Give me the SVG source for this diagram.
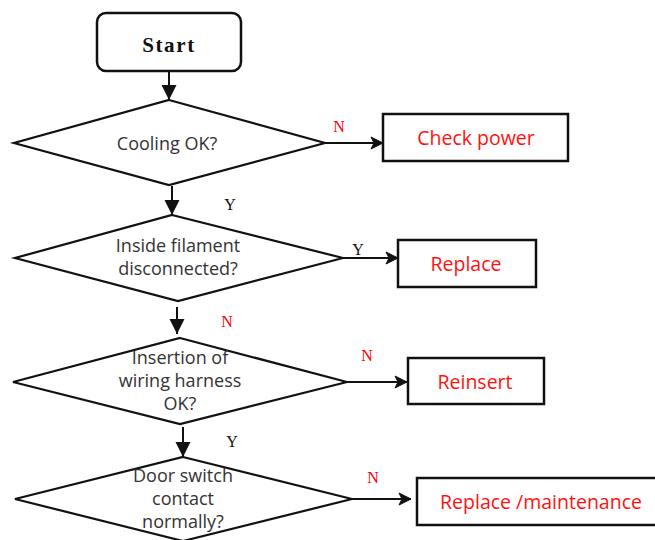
<svg xmlns="http://www.w3.org/2000/svg" width="655" height="540" viewBox="0 0 655 540">
<defs>
<style>
.shape{fill:#fff;stroke:#111;stroke-width:2.2}
.box{fill:#fff;stroke:#111;stroke-width:2.5}
.q{font-family:"Open Sans","Noto Sans",sans-serif;font-size:18px;fill:#333;text-anchor:middle}
.act{font-family:"Open Sans","Noto Sans",sans-serif;font-size:19.5px;fill:#f11;text-anchor:middle}
.lbl{font-family:"Liberation Serif","DejaVu Serif",serif;font-size:16px;text-anchor:middle}
.st{font-family:"Liberation Serif","DejaVu Serif",serif;font-size:21px;font-weight:600;letter-spacing:1.6px;fill:#111;text-anchor:middle}
.red{fill:#f00}
.blk{fill:#111}
.line{fill:none;stroke:#111;stroke-width:2}
</style>
<marker id="tri" markerUnits="userSpaceOnUse" markerWidth="16" markerHeight="16" refX="15" refY="8" orient="auto">
<path d="M0,0.5 L15,8 L0,15.5 z" fill="#111"/>
</marker>
<marker id="chev" markerUnits="userSpaceOnUse" markerWidth="16" markerHeight="14" refX="14" refY="7" orient="auto">
<path d="M2,1 L14,7 L2,13 L5,7 z" fill="#111" stroke="#111" stroke-width="1" stroke-linejoin="miter"/>
</marker>
</defs>
<rect width="655" height="540" fill="#fff"/>
<g id="connectors">
<line class="line" x1="169" y1="71" x2="169" y2="100" marker-end="url(#tri)"/>
<line class="line" x1="325" y1="143" x2="383" y2="143" marker-end="url(#chev)"/>
<line class="line" x1="172" y1="186" x2="172" y2="215" marker-end="url(#tri)"/>
<line class="line" x1="343" y1="258" x2="398" y2="258" marker-end="url(#chev)"/>
<line class="line" x1="177" y1="307" x2="177" y2="334" marker-end="url(#tri)"/>
<line class="line" x1="347" y1="382" x2="407" y2="382" marker-end="url(#chev)"/>
<line class="line" x1="183" y1="427" x2="183" y2="457" marker-end="url(#tri)"/>
<line class="line" x1="352" y1="499" x2="411" y2="499" marker-end="url(#chev)"/>
<text class="lbl red" x="339" y="132">N</text>
<text class="lbl blk" x="230" y="210">Y</text>
<text class="lbl blk" x="358" y="255">Y</text>
<text class="lbl red" x="227" y="327">N</text>
<text class="lbl red" x="367" y="361">N</text>
<text class="lbl blk" x="232" y="447">Y</text>
<text class="lbl red" x="373" y="483">N</text>
</g>
<g id="start">
<rect class="box" x="97" y="13" width="144" height="58" rx="9"/>
<text class="st" x="169" y="52">Start</text>
</g>
<g id="d-cooling">
<polygon class="shape" points="169,100 325,143 169,185 14,143"/>
<text class="q" x="167" y="150">Cooling OK?</text>
</g>
<g id="b-checkpower">
<rect class="box" x="383" y="114" width="185" height="47"/>
<text class="act" x="476" y="145">Check power</text>
</g>
<g id="d-filament">
<polygon class="shape" points="172,215 343,258 178,301 15,258"/>
<text class="q" x="178" y="252">Inside filament</text>
<text class="q" x="178" y="275">disconnected?</text>
</g>
<g id="b-replace">
<rect class="box" x="398" y="240" width="138" height="47"/>
<text class="act" x="466" y="271">Replace</text>
</g>
<g id="d-insertion">
<polygon class="shape" points="180,338 347,382 180,424 13,382"/>
<text class="q" x="180" y="364">Insertion of</text>
<text class="q" x="180" y="387">wiring harness</text>
<text class="q" x="180" y="410">OK?</text>
</g>
<g id="b-reinsert">
<rect class="box" x="408" y="358" width="136" height="46"/>
<text class="act" x="475" y="389">Reinsert</text>
</g>
<g id="d-door">
<polygon class="shape" points="183,457 352,499 183,541 15,499"/>
<text class="q" x="183" y="482">Door switch</text>
<text class="q" x="183" y="505">contact</text>
<text class="q" x="183" y="528">normally?</text>
</g>
<g id="b-replacemaint">
<rect class="box" x="417" y="478" width="240" height="47"/>
<text class="act" x="541" y="509">Replace /maintenance</text>
</g>
</svg>
